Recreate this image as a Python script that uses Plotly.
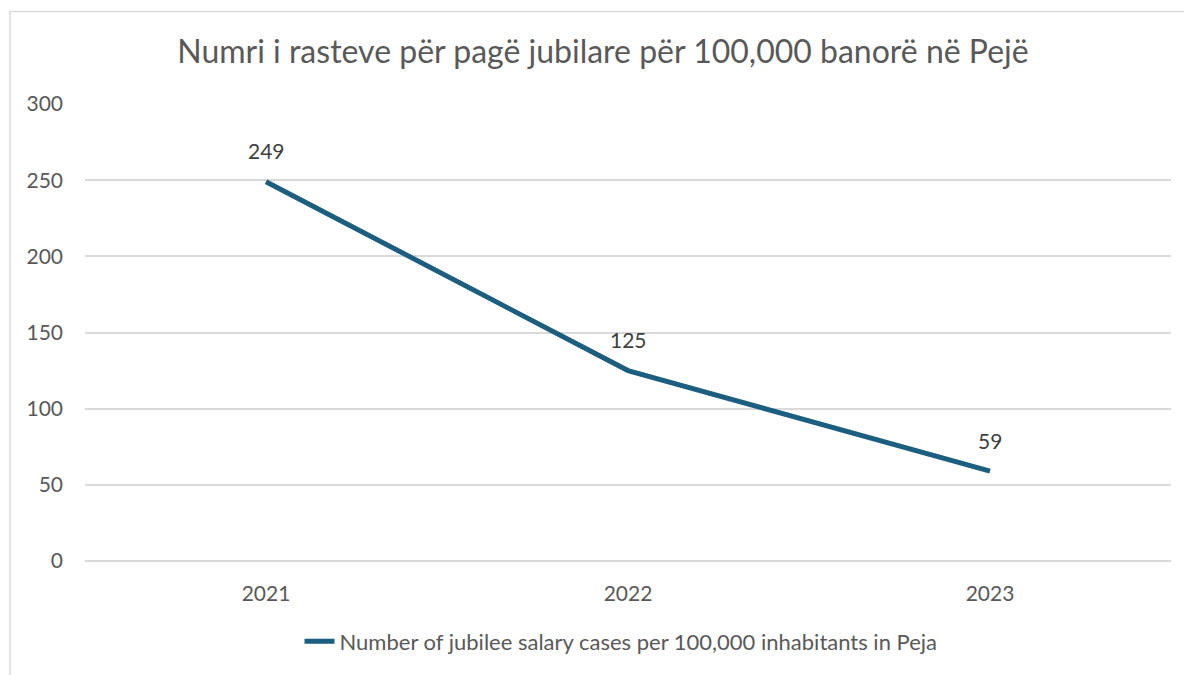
import plotly.graph_objects as go

years = ["2021", "2022", "2023"]
cases = [249, 125, 59]
series_name = "Number of jubilee salary cases per 100,000 inhabitants in Peja"
title_text = "Numri i rasteve për pagë jubilare për 100,000 banorë në Pejë"

FONT = "Lato, 'Open Sans', sans-serif"
# page body has an 8px margin; figure sized to fit the 1192x675 window
W, H = 1184, 667
L, R, T, B = 77, 21, 96, 111
pw, ph = W - L - R, H - T - B

fig = go.Figure()
fig.add_trace(go.Scatter(
    x=years, y=cases, name=series_name,
    mode="lines",
    line=dict(color="#1C5E80", width=5),
    cliponaxis=False,
))

annotations = [
    dict(x=i, y=v, xref="x", yref="y", text=str(v), showarrow=False,
         yshift=31, yanchor="middle", xanchor="center",
         font=dict(family=FONT, size=21, color="#404040"))
    for i, v in enumerate(cases)
]

fig.update_layout(
    width=W, height=H,
    margin=dict(l=L, r=R, t=T, b=B),
    paper_bgcolor="white", plot_bgcolor="white",
    font=dict(family=FONT, color="#595959"),
    title=dict(text=title_text, xref="container", x=595 / W, xanchor="center",
               y=1 - 44 / H, yanchor="middle",
               font=dict(family=FONT, size=32, color="#595959")),
    xaxis=dict(type="category", range=[-0.5, 2.5], showgrid=False, showline=False,
               ticks="", ticklabelstandoff=18, tickfont=dict(size=21, color="#595959")),
    yaxis=dict(range=[0, 300], dtick=50, showgrid=True, gridcolor="#D9D9D9", gridwidth=1.5,
               zeroline=True, zerolinecolor="#D9D9D9", zerolinewidth=1.5,
               showline=False, ticks="", ticklabelstandoff=21,
               tickfont=dict(size=21, color="#595959")),
    showlegend=True,
    legend=dict(orientation="h", x=(613 - L) / pw, xanchor="center",
                y=-(637 - T - ph) / ph, yanchor="middle",
                font=dict(family=FONT, size=22, color="#595959")),
    annotations=annotations,
    shapes=[dict(type="rect", xref="paper", yref="paper",
                 x0=(2 - L) / pw, x1=(1230 - L) / pw,
                 y0=-(700 - T - ph) / ph, y1=1 + (T - 3) / ph,
                 line=dict(color="#D9D9D9", width=1.5), fillcolor="rgba(0,0,0,0)", layer="below")],
)

fig.write_html("out.html")
